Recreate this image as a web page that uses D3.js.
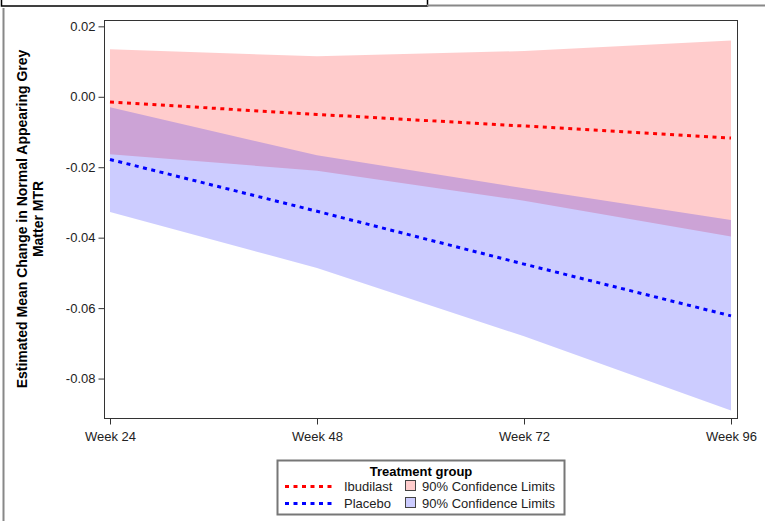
<!DOCTYPE html>
<html>
<head>
<meta charset="utf-8">
<script src="https://cdn.jsdelivr.net/npm/d3@7"></script>
<style>
  body { margin: 0; background: #fff; }
  svg { display: block; font-family: "Liberation Sans", Arial, sans-serif; }
</style>
</head>
<body>
<svg id="chart" width="765" height="521"></svg>
<script>
// Visit labels and weeks
var weeks = [24, 48, 72, 96];
var weekLabels = ['Week 24', 'Week 48', 'Week 72', 'Week 96'];

// Ibudilast estimates and 90% limits
var ibuMean = [-0.0015, -0.0050, -0.0083, -0.0117];
var ibuUpper = [0.0135, 0.0115, 0.0130, 0.0160];
var ibuLower = [-0.0163, -0.0210, -0.0295, -0.0397];

// Placebo estimates and 90% limits
var plaMean = [-0.0178, -0.0325, -0.0475, -0.0622];
var plaUpper = [-0.0030, -0.0166, -0.0260, -0.0350];
var plaLower = [-0.0327, -0.0486, -0.0680, -0.0891];

var yTicks = [0.02, 0.00, -0.02, -0.04, -0.06, -0.08];

var svg = d3.select('#chart');

// Frame of the plot area
var frame = {left: 104, right: 737, top: 20, bottom: 418};

var x = d3.scaleLinear()
  .domain([24, 96])
  .range([110, 731]);

var y = d3.scaleLinear()
  .domain([-0.0912, 0.0218])
  .range([frame.bottom, frame.top]);

// Outer decorations (page borders)
svg.append('rect')
  .attr('x', 1.5).attr('y', -10)
  .attr('width', 426).attr('height', 16)
  .attr('fill', 'none').attr('stroke', '#000').attr('stroke-width', 1.5);
svg.append('line')
  .attr('x1', 427).attr('x2', 765).attr('y1', 5.5).attr('y2', 5.5)
  .attr('stroke', '#888').attr('stroke-width', 2);
svg.append('line')
  .attr('x1', 3.5).attr('x2', 3.5).attr('y1', 8).attr('y2', 521)
  .attr('stroke', '#888').attr('stroke-width', 2);

// Confidence bands
var band = d3.area()
  .x(function(d) { return x(d.w); })
  .y0(function(d) { return y(d.lo); })
  .y1(function(d) { return y(d.hi); });

function bandData(lo, hi) {
  return weeks.map(function(w, i) { return {w: w, lo: lo[i], hi: hi[i]}; });
}

svg.append('path')
  .attr('d', band(bandData(ibuLower, ibuUpper)))
  .attr('fill', '#ff0000').attr('fill-opacity', 0.2);
svg.append('path')
  .attr('d', band(bandData(plaLower, plaUpper)))
  .attr('fill', '#0000ff').attr('fill-opacity', 0.2);

// Mean lines
var line = d3.line()
  .x(function(d, i) { return x(weeks[i]); })
  .y(function(d) { return y(d); });

svg.append('path')
  .attr('d', line(ibuMean))
  .attr('fill', 'none').attr('stroke', '#ff0000')
  .attr('stroke-width', 3).attr('stroke-dasharray', '4,4.5');
svg.append('path')
  .attr('d', line(plaMean))
  .attr('fill', 'none').attr('stroke', '#0000ff')
  .attr('stroke-width', 3).attr('stroke-dasharray', '4,4.5');

// Plot frame
svg.append('rect')
  .attr('x', frame.left + 0.5).attr('y', frame.top + 0.5)
  .attr('width', frame.right - frame.left).attr('height', frame.bottom - frame.top)
  .attr('fill', 'none').attr('stroke', '#333').attr('stroke-width', 1);

// Y axis
var yAxis = svg.append('g')
  .attr('transform', 'translate(' + (frame.left + 0.5) + ',0)')
  .call(d3.axisLeft(y).tickValues(yTicks).tickSize(6).tickSizeOuter(0));
yAxis.select('.domain').remove();
yAxis.selectAll('line').attr('stroke', '#333');
yAxis.selectAll('text')
  .style('font-size', '13px').attr('fill', '#222')
  .style('font-family', '"Liberation Sans", Arial, sans-serif')
  .text(function(d) { return d3.format('.2f')(d).replace('−', '-'); });

// X axis
var xAxis = svg.append('g')
  .attr('transform', 'translate(0,' + (frame.bottom + 0.5) + ')')
  .call(d3.axisBottom(x).tickValues(weeks).tickFormat(function(d, i) { return weekLabels[i]; }).tickSize(6).tickSizeOuter(0));
xAxis.select('.domain').remove();
xAxis.selectAll('line').attr('stroke', '#333');
xAxis.selectAll('text')
  .style('font-size', '13px').attr('fill', '#222').attr('dy', '1.05em')
  .style('font-family', '"Liberation Sans", Arial, sans-serif');

// Y axis title
var yTitle = svg.append('text')
  .attr('transform', 'translate(27,' + ((frame.top + frame.bottom) / 2) + ') rotate(-90)')
  .attr('text-anchor', 'middle')
  .style('font-size', '14px').attr('font-weight', 'bold').attr('fill', '#000');
yTitle.append('tspan').attr('x', 0).attr('dy', 0)
  .text('Estimated Mean Change in Normal Appearing Grey');
yTitle.append('tspan').attr('x', 0).attr('dy', 16)
  .text('Matter MTR');

// Legend
var legend = svg.append('g').attr('transform', 'translate(277,460)');
legend.append('rect')
  .attr('x', 0.5).attr('y', 0.5).attr('width', 287).attr('height', 54)
  .attr('fill', '#fff').attr('stroke', '#777').attr('stroke-width', 2);
legend.append('text')
  .attr('x', 144).attr('y', 16)
  .attr('text-anchor', 'middle')
  .style('font-size', '13px').attr('font-weight', 'bold')
  .text('Treatment group');

var legendRows = [
  {name: 'Ibudilast', color: '#ff0000', y: 31},
  {name: 'Placebo', color: '#0000ff', y: 48}
];

legendRows.forEach(function(r) {
  legend.append('line')
    .attr('x1', 8).attr('x2', 56).attr('y1', r.y - 4.5).attr('y2', r.y - 4.5)
    .attr('stroke', r.color).attr('stroke-width', 3).attr('stroke-dasharray', '4,4.5');
  legend.append('text')
    .attr('x', 67).attr('y', r.y)
    .style('font-size', '13px').attr('fill', '#222')
    .text(r.name);
  legend.append('rect')
    .attr('x', 128.5).attr('y', r.y - 10.5).attr('width', 10).attr('height', 10)
    .attr('fill', r.color).attr('fill-opacity', 0.2)
    .attr('stroke', '#444').attr('stroke-width', 1);
  legend.append('text')
    .attr('x', 145).attr('y', r.y)
    .style('font-size', '13px').attr('fill', '#222')
    .text('90% Confidence Limits');
});
</script>
</body>
</html>
